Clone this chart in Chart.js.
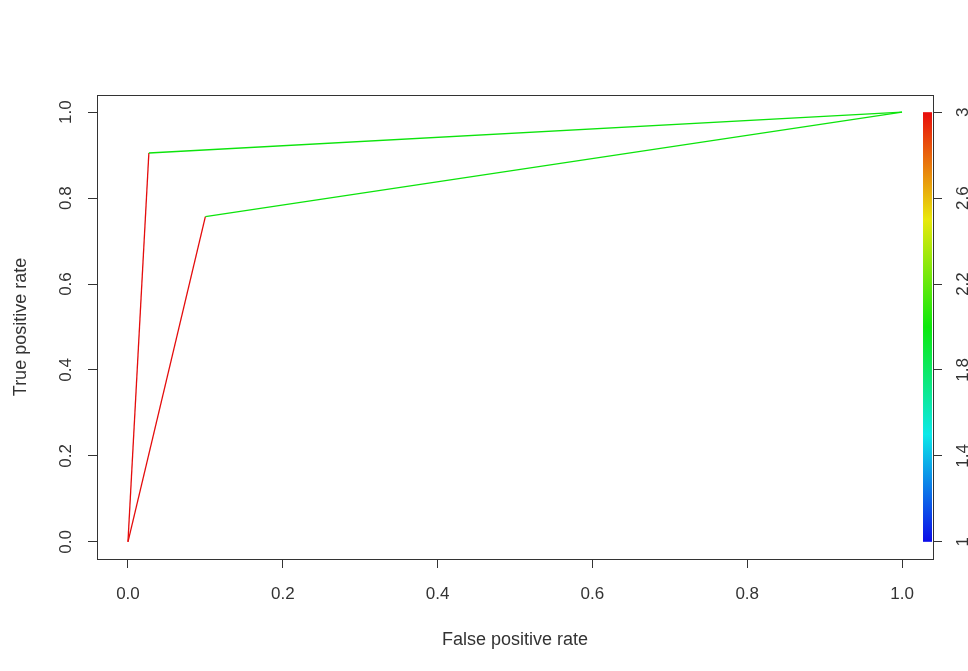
<!DOCTYPE html>
<html>
<head>
<meta charset="utf-8">
<script src="https://cdn.jsdelivr.net/npm/chart.js@4/dist/chart.umd.min.js"></script>
<style>
  html, body { margin: 0; padding: 0; background: #fff; }
  canvas { display: block; }
</style>
</head>
<body>
<canvas id="rocChart" width="968" height="671"></canvas>
<script>
// axis ticks
const xTicks = [0, 0.2, 0.4, 0.6, 0.8, 1];
const xTickLabels = ['0.0', '0.2', '0.4', '0.6', '0.8', '1.0'];
const yTicks = [0, 0.2, 0.4, 0.6, 0.8, 1];
const yTickLabels = ['0.0', '0.2', '0.4', '0.6', '0.8', '1.0'];

// colorbar (cutoff) ticks
const cutoffTicks = [1, 1.4, 1.8, 2.2, 2.6, 3];
const cutoffTickLabels = ['1', '1.4', '1.8', '2.2', '2.6', '3'];
const cutoffMin = 1;
const cutoffMax = 3;

// ROC curves (false positive rate / true positive rate)
const curve1Fpr = [0, 0.027, 1];
const curve1Tpr = [0, 0.905, 1];
const curve1SegCutoff = [3, 2];

const curve2Fpr = [0, 0.1, 1];
const curve2Tpr = [0, 0.757, 1];
const curve2SegCutoff = [3, 2];

// rainbow colormap, blue (low cutoff) -> red (high cutoff)
function cutoffColor(v, light) {
  const t = (v - cutoffMin) / (cutoffMax - cutoffMin);
  const hue = 240 * (1 - t);
  return `hsl(${hue}, 90%, ${light || 47}%)`;
}

const axisMin = -0.04;
const axisMax = 1.04;
const textColor = '#333';
const fontFamily = '"Liberation Sans", Arial, Helvetica, sans-serif';

function toPoints(xs, ys) {
  return xs.map((x, i) => ({ x: x, y: ys[i] }));
}

function rocDataset(xs, ys, segCutoff) {
  return {
    data: toPoints(xs, ys),
    showLine: true,
    pointRadius: 0,
    borderWidth: 1.3,
    borderColor: cutoffColor(segCutoff[0]),
    segment: {
      borderColor: ctx => cutoffColor(segCutoff[ctx.p0DataIndex])
    }
  };
}

const boxPlugin = {
  id: 'box',
  afterDatasetsDraw(chart) {
    const { ctx, chartArea: a } = chart;
    const s = chart.scales.y1;

    // colorbar along the right edge, positioned by the cutoff axis
    const top = s.getPixelForValue(cutoffMax);
    const bottom = s.getPixelForValue(cutoffMin);
    const grad = ctx.createLinearGradient(0, bottom, 0, top);
    const n = 12;
    for (let i = 0; i <= n; i++) {
      grad.addColorStop(i / n, cutoffColor(cutoffMin + (cutoffMax - cutoffMin) * i / n, 48));
    }
    ctx.save();
    ctx.fillStyle = grad;
    ctx.fillRect(a.right - 10, top, 9, bottom - top);

    // plot frame
    ctx.strokeStyle = textColor;
    ctx.lineWidth = 1;
    ctx.strokeRect(Math.round(a.left) + 0.5, Math.round(a.top) + 0.5,
      Math.round(a.right - a.left), Math.round(a.bottom - a.top));
    ctx.restore();
  }
};

function setTicks(values) {
  return scale => { scale.ticks = values.map(v => ({ value: v })); };
}

new Chart(document.getElementById('rocChart'), {
  type: 'scatter',
  data: {
    datasets: [
      rocDataset(curve1Fpr, curve1Tpr, curve1SegCutoff),
      rocDataset(curve2Fpr, curve2Tpr, curve2SegCutoff)
    ]
  },
  options: {
    responsive: false,
    animation: false,
    devicePixelRatio: 1,
    layout: { padding: { top: 95, left: 0, right: 0, bottom: 0 } },
    plugins: {
      legend: { display: false },
      tooltip: { enabled: false }
    },
    scales: {
      x: {
        type: 'linear',
        position: 'bottom',
        min: axisMin,
        max: axisMax,
        afterBuildTicks: setTicks(xTicks),
        afterFit: s => { s.height = 112; },
        grid: { drawOnChartArea: false, drawTicks: true, tickLength: 9, color: textColor },
        border: { display: false },
        ticks: {
          color: textColor,
          font: { family: fontFamily, size: 17 },
          padding: 16,
          maxRotation: 0,
          callback: (v, i) => xTickLabels[i]
        },
        title: {
          display: true,
          text: 'False positive rate',
          color: textColor,
          font: { family: fontFamily, size: 18 },
          padding: { top: 0, bottom: 20 }
        }
      },
      y: {
        type: 'linear',
        position: 'left',
        min: axisMin,
        max: axisMax,
        afterBuildTicks: setTicks(yTicks),
        afterFit: s => { s.width = 97; },
        grid: { drawOnChartArea: false, drawTicks: true, tickLength: 9, color: textColor },
        border: { display: false },
        ticks: {
          color: textColor,
          font: { family: fontFamily, size: 17 },
          padding: 10,
          minRotation: 90,
          maxRotation: 90,
          crossAlign: 'center',
          callback: (v, i) => yTickLabels[i]
        },
        title: {
          display: true,
          text: 'True positive rate',
          color: textColor,
          font: { family: fontFamily, size: 18 },
          padding: { top: 10, bottom: 0 }
        }
      },
      y1: {
        type: 'linear',
        position: 'right',
        min: cutoffMin + (cutoffMax - cutoffMin) * axisMin,
        max: cutoffMin + (cutoffMax - cutoffMin) * axisMax,
        afterBuildTicks: setTicks(cutoffTicks),
        afterFit: s => { s.width = 35; },
        grid: { drawOnChartArea: false, drawTicks: true, tickLength: 9, color: textColor },
        border: { display: false },
        ticks: {
          color: textColor,
          font: { family: fontFamily, size: 17 },
          padding: 9,
          minRotation: 90,
          maxRotation: 90,
          crossAlign: 'center',
          callback: (v, i) => cutoffTickLabels[i]
        }
      }
    }
  },
  plugins: [boxPlugin]
});
</script>
</body>
</html>
